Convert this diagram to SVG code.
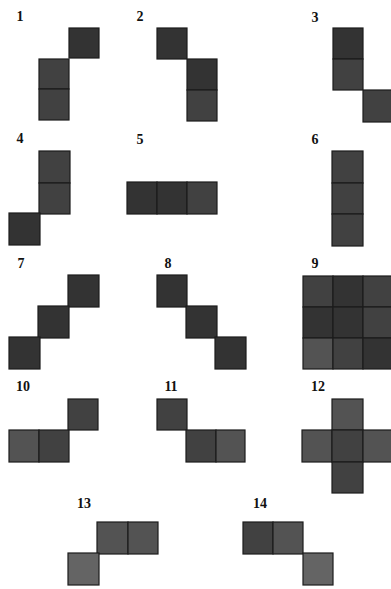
<svg xmlns="http://www.w3.org/2000/svg" width="391" height="589" viewBox="0 0 391 589">
<style>
.bg{fill:#ffffff}
rect.c{stroke:#1c1c1c;stroke-width:1.2}
.d{fill:#333333}
.m{fill:#414141}
.l{fill:#535353}
.v{fill:#646464}
text{font-family:"Liberation Serif","Times New Roman",serif;font-weight:bold;font-size:14px;fill:#111111;text-anchor:middle}
</style>
<rect class="bg" x="0" y="0" width="391" height="589"/>
<g id="fig1">
<text x="20" y="21">1</text>
<rect class="c d" x="69" y="28" width="30" height="30"/>
<rect class="c m" x="39" y="59" width="30" height="30"/>
<rect class="c m" x="39" y="89" width="30" height="31"/>
</g>
<g id="fig2">
<text x="140" y="21">2</text>
<rect class="c d" x="157" y="28" width="30" height="31"/>
<rect class="c d" x="187" y="59" width="30" height="31"/>
<rect class="c m" x="187" y="90" width="30" height="31"/>
</g>
<g id="fig3">
<text x="315" y="22">3</text>
<rect class="c d" x="333" y="28" width="30" height="31"/>
<rect class="c m" x="333" y="59" width="30" height="31"/>
<rect class="c m" x="363" y="90" width="30" height="32"/>
</g>
<g id="fig4">
<text x="20" y="143">4</text>
<rect class="c m" x="39" y="151" width="31" height="32"/>
<rect class="c m" x="39" y="183" width="31" height="31"/>
<rect class="c d" x="9" y="213" width="31" height="32"/>
</g>
<g id="fig5">
<text x="140" y="144">5</text>
<rect class="c d" x="127" y="182" width="30" height="32"/>
<rect class="c d" x="157" y="182" width="30" height="32"/>
<rect class="c m" x="187" y="182" width="30" height="32"/>
</g>
<g id="fig6">
<text x="315" y="144">6</text>
<rect class="c m" x="332" y="151" width="31" height="32"/>
<rect class="c m" x="332" y="183" width="31" height="31"/>
<rect class="c m" x="332" y="214" width="31" height="32"/>
</g>
<g id="fig7">
<text x="21" y="268">7</text>
<rect class="c d" x="68" y="275" width="31" height="32"/>
<rect class="c d" x="38" y="306" width="31" height="32"/>
<rect class="c d" x="9" y="337" width="31" height="32"/>
</g>
<g id="fig8">
<text x="168" y="268">8</text>
<rect class="c d" x="157" y="275" width="30" height="32"/>
<rect class="c d" x="186" y="306" width="31" height="32"/>
<rect class="c d" x="215" y="337" width="31" height="32"/>
</g>
<g id="fig9">
<text x="315" y="268">9</text>
<rect class="c m" x="303" y="276" width="30" height="31"/>
<rect class="c d" x="333" y="276" width="30" height="31"/>
<rect class="c m" x="363" y="276" width="30" height="31"/>
<rect class="c d" x="303" y="307" width="30" height="31"/>
<rect class="c d" x="333" y="307" width="30" height="31"/>
<rect class="c m" x="363" y="307" width="30" height="31"/>
<rect class="c l" x="303" y="338" width="30" height="31"/>
<rect class="c m" x="333" y="338" width="30" height="31"/>
<rect class="c d" x="363" y="338" width="30" height="31"/>
</g>
<g id="fig10">
<text x="23" y="391">10</text>
<rect class="c m" x="68" y="399" width="30" height="31"/>
<rect class="c l" x="9" y="430" width="30" height="32"/>
<rect class="c m" x="39" y="430" width="30" height="32"/>
</g>
<g id="fig11">
<text x="171" y="391">11</text>
<rect class="c m" x="157" y="399" width="30" height="31"/>
<rect class="c m" x="186" y="430" width="30" height="32"/>
<rect class="c l" x="216" y="430" width="29" height="32"/>
</g>
<g id="fig12">
<text x="318" y="391">12</text>
<rect class="c l" x="332" y="399" width="31" height="31"/>
<rect class="c l" x="302" y="430" width="30" height="32"/>
<rect class="c m" x="332" y="430" width="31" height="32"/>
<rect class="c l" x="363" y="430" width="30" height="32"/>
<rect class="c m" x="332" y="462" width="31" height="31"/>
</g>
<g id="fig13">
<text x="84" y="508">13</text>
<rect class="c l" x="97" y="522" width="31" height="32"/>
<rect class="c l" x="128" y="522" width="30" height="32"/>
<rect class="c v" x="68" y="553" width="31" height="32"/>
</g>
<g id="fig14">
<text x="260" y="508">14</text>
<rect class="c m" x="243" y="522" width="30" height="32"/>
<rect class="c l" x="273" y="522" width="30" height="32"/>
<rect class="c v" x="303" y="553" width="30" height="32"/>
</g>
</svg>
